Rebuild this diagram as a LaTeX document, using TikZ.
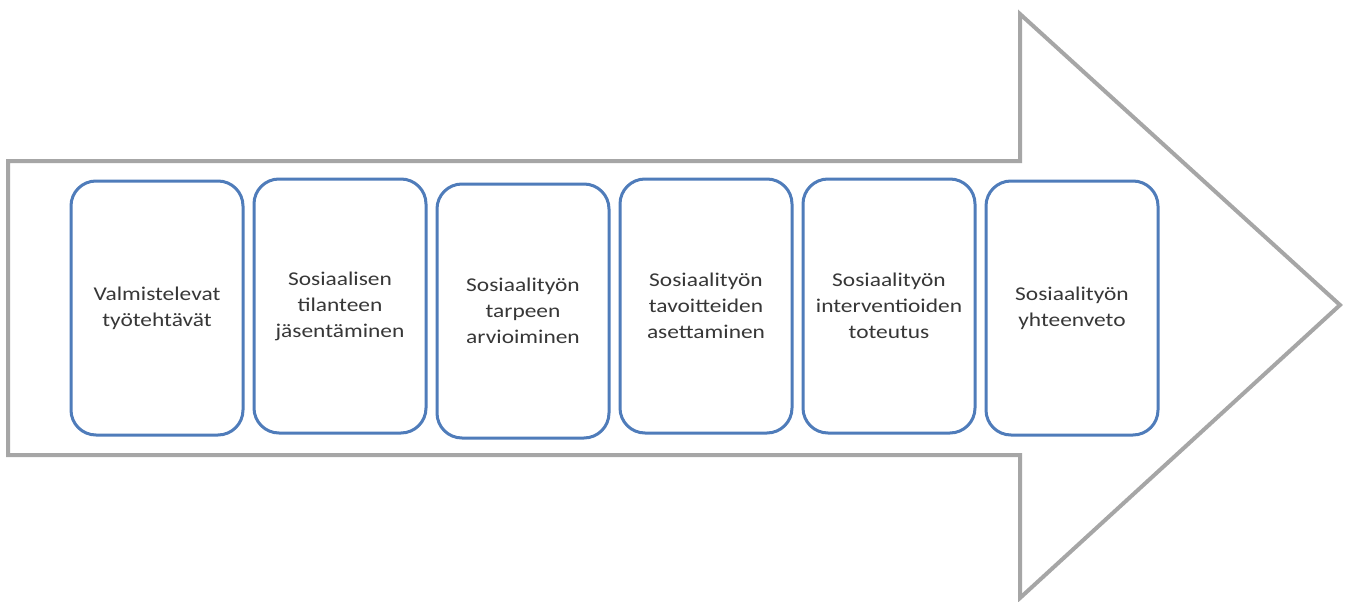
\documentclass[tikz,border=0pt]{standalone}
\usepackage{fontspec}
\setmainfont{Carlito}[FakeStretch=1.2]
\definecolor{arrowgray}{RGB}{166,166,166}
\definecolor{boxblue}{RGB}{79,124,186}
\definecolor{txtgray}{RGB}{55,55,55}
\tikzset{
  stepbox/.style={draw=boxblue, line width=3pt, rounded corners=25pt, fill=white,
    minimum width=172pt, minimum height=254pt, align=center, text=txtgray,
    font=\fontsize{19.5}{26}\selectfont, inner sep=0pt},
  bigarrow/.style={draw=arrowgray, line width=4pt, line join=miter, fill=white}
}
\begin{document}
\begin{tikzpicture}[x=1pt,y=-1pt]
\useasboundingbox (0,0) rectangle (1350,602);
\draw[bigarrow] (8,161) -- (1020,161) -- (1020,14) -- (1340,305) -- (1020,598) -- (1020,455) -- (8,455) -- cycle;
\node[stepbox] (b1) at (157,308) {Valmistelevat\\työtehtävät};
\node[stepbox] (b2) at (340,306) {Sosiaalisen\\tilanteen\\jäsentäminen};
\node[stepbox] (b3) at (523,311) {Sosiaalityön\\tarpeen\\arvioiminen};
\node[stepbox] (b4) at (706,306) {Sosiaalityön\\tavoitteiden\\asettaminen};
\node[stepbox] (b5) at (889,306) {Sosiaalityön\\interventioiden\\toteutus};
\node[stepbox] (b6) at (1072,308) {Sosiaalityön\\yhteenveto};
\end{tikzpicture}
\end{document}
